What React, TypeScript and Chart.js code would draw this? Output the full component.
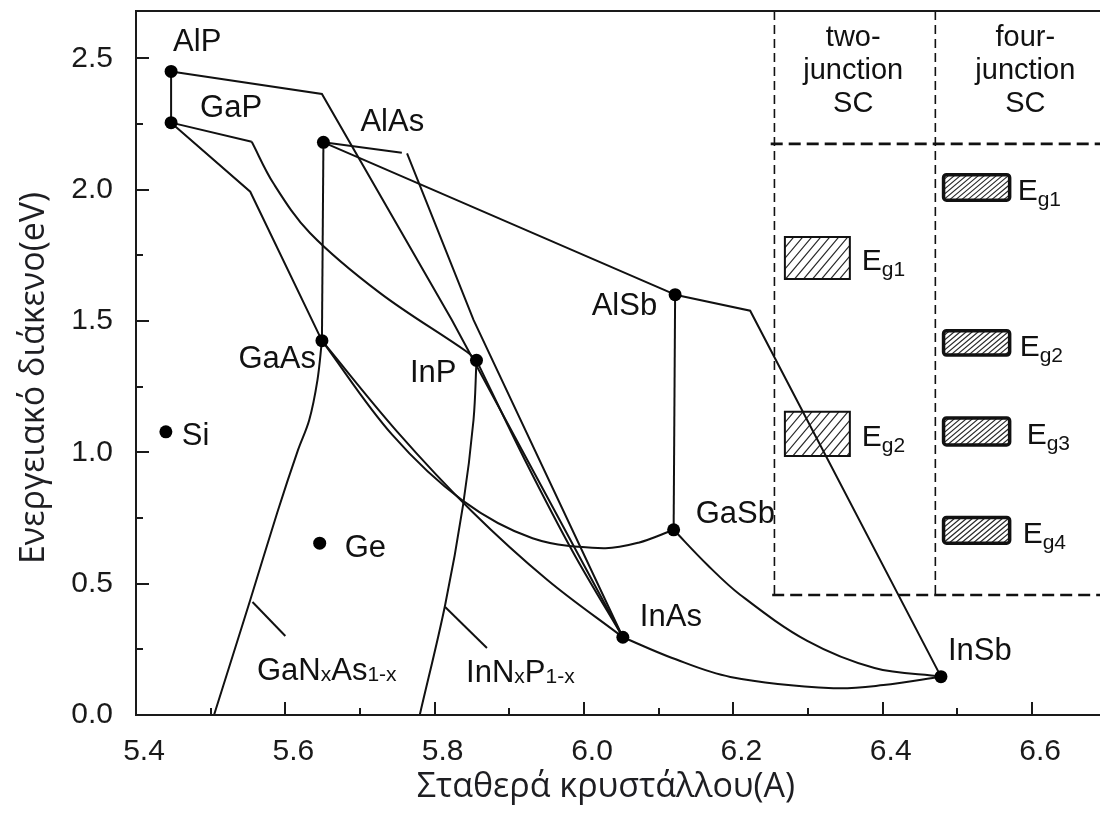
import { useEffect, useRef } from 'react';
import { Chart, registerables } from 'chart.js';

Chart.register(...registerables);

// Axis ranges and ticks (lattice constant in Å, band gap in eV)
const xRange = [5.4, 6.691];
const yRange = [0, 2.68];
const xTickValues = [5.4, 5.6, 5.8, 6.0, 6.2, 6.4, 6.6];
const xMinorTickValues = [5.5, 5.7, 5.9, 6.1, 6.3, 6.5];
const yTickValues = [0, 0.5, 1.0, 1.5, 2.0, 2.5];
const yMinorTickValues = [0.25, 0.75, 1.25, 1.75, 2.25];

// Binary semiconductors and the elements Si, Ge
const compoundNames = ['AlP', 'GaP', 'AlAs', 'GaAs', 'InP', 'AlSb', 'GaSb', 'InAs', 'InSb', 'Si', 'Ge'];
const compoundLattice = [5.447, 5.447, 5.651, 5.649, 5.856, 6.122, 6.12, 6.052, 6.478, 5.44, 5.646];
const compoundGap = [2.45, 2.255, 2.18, 1.425, 1.35, 1.6, 0.705, 0.296, 0.146, 1.078, 0.654];

// Ternary alloy lines (lattice constant, band gap)
const alpGapA = [5.447, 5.447];
const alpGapE = [2.45, 2.255];
const alpInasA = [5.447, 5.649, 5.823, 6.052];
const alpInasE = [2.45, 2.364, 1.504, 0.296];
const alasStubA = [5.651, 5.756];
const alasStubE = [2.18, 2.14];
const alasInasA = [5.763, 5.852, 6.052];
const alasInasE = [2.138, 1.504, 0.296];
const alasAlsbA = [5.651, 6.122];
const alasAlsbE = [2.18, 1.6];
const alasGaasA = [5.651, 5.649];
const alasGaasE = [2.18, 1.425];
const alsbInsbA = [6.122, 6.2225, 6.478];
const alsbInsbE = [1.6, 1.539, 0.146];
const alsbGasbA = [6.122, 6.12];
const alsbGasbE = [1.6, 0.705];
const gapKinkA = [5.447, 5.555];
const gapKinkE = [2.255, 2.182];
const gaInPA = [5.555, 5.584, 5.633, 5.727, 5.843, 5.856];
const gaInPE = [2.182, 2.024, 1.835, 1.606, 1.383, 1.35];
const gapGaasA = [5.447, 5.553, 5.649];
const gapGaasE = [2.255, 1.992, 1.425];
const gaasInasA = [5.649, 5.75, 5.85, 5.951, 6.052];
const gaasInasE = [1.425, 1.078, 0.775, 0.514, 0.296];
const gaasGasbA = [5.649, 5.743, 5.837, 5.931, 6.026, 6.073, 6.12];
const gaasGasbE = [1.425, 1.067, 0.817, 0.673, 0.635, 0.656, 0.705];
const inpInasA = [5.856, 5.921, 5.987, 6.052];
const inpInasE = [1.35, 0.97, 0.611, 0.296];
const inasInsbA = [6.052, 6.118, 6.196, 6.334, 6.401, 6.478];
const inasInsbE = [0.296, 0.217, 0.145, 0.102, 0.114, 0.146];
const gasbInsbA = [6.12, 6.165, 6.209, 6.299, 6.389, 6.478];
const gasbInsbE = [0.705, 0.572, 0.458, 0.282, 0.179, 0.146];
const gaNAsA = [5.649, 5.643, 5.632, 5.617, 5.589, 5.553, 5.529, 5.5045];
const gaNAsE = [1.425, 1.275, 1.123, 1.009, 0.769, 0.438, 0.221, 0];
const inNPA = [5.856, 5.852, 5.838, 5.814, 5.78];
const inNPE = [1.35, 1.123, 0.799, 0.419, 0];
const gaNAsPointerA = [5.556, 5.6];
const gaNAsPointerE = [0.43, 0.301];
const inNPPointerA = [5.814, 5.87];
const inNPPointerE = [0.411, 0.255];

// Solar-cell panel: dividers, headers and target band gaps
const panelColumnA = [6.255, 6.4705];
const panelRowE = [2.174, 0.457];
const panelHeaderA = [6.3605, 6.591];
const panelHeaderTopE = 2.5485;
const panelHeaders = [
  ['two-', 'junction', 'SC'],
  ['four-', 'junction', 'SC'],
];
const twoJunctionA = [6.269, 6.356];
const twoJunctionLow = [1.66, 0.986];
const twoJunctionHigh = [1.82, 1.154];
const twoJunctionNames = ['g1', 'g2'];
const fourJunctionA = [6.4815, 6.57];
const fourJunctionLow = [1.96, 1.37, 1.028, 0.654];
const fourJunctionHigh = [2.057, 1.463, 1.131, 0.752];
const fourJunctionNames = ['g1', 'g2', 'g3', 'g4'];

// Alloy names with subscripts
const gaNAsName: [string, boolean][] = [['Ga', false], ['N', false], ['x', true], ['As', false], ['1-x', true]];
const inNPName: [string, boolean][] = [['In', false], ['N', false], ['x', true], ['P', false], ['1-x', true]];
const gaNAsNameAt = [5.562, 0.1332];
const inNPNameAt = [5.842, 0.1256];

const FONT = '"Liberation Sans", Arial, Helvetica, sans-serif';
const TITLE_FONT = '"Open Sans", "Noto Sans", sans-serif';
const INK = '#111';

// Label placement around each compound dot: dx, dy (px), alignment
const compoundLabelPlace: Record<string, [number, number, CanvasTextAlign]> = {
  AlP: [2, -20, 'left'],
  GaP: [29, -6, 'left'],
  AlAs: [37, -11, 'left'],
  GaAs: [-6, 27, 'right'],
  InP: [-20, 22, 'right'],
  AlSb: [-18, 20, 'right'],
  GaSb: [22, -7, 'left'],
  InAs: [17, -11, 'left'],
  InSb: [7, -17, 'left'],
  Si: [16, 13, 'left'],
  Ge: [25, 14, 'left'],
};

const toPoints = (xs: number[], ys: number[]) => xs.map((x, i) => ({ x, y: ys[i] }));

function lineSet(xs: number[], ys: number[], tension: number, extra: any = {}) {
  return {
    data: toPoints(xs, ys),
    showLine: true,
    pointRadius: 0,
    pointHoverRadius: 0,
    borderColor: INK,
    borderWidth: 2,
    tension,
    ...extra,
  };
}

function drawRich(
  ctx: CanvasRenderingContext2D,
  parts: [string, boolean][],
  x: number,
  y: number,
  size: number,
  subSize: number,
  subDrop: number,
  align: 'left' | 'right' = 'left'
) {
  const fontOf = (sub: boolean) => `${sub ? subSize : size}px ${FONT}`;
  let total = 0;
  for (const [t, sub] of parts) {
    ctx.font = fontOf(sub);
    total += ctx.measureText(t).width;
  }
  let cx = align === 'right' ? x - total : x;
  ctx.textAlign = 'left';
  ctx.textBaseline = 'alphabetic';
  for (const [t, sub] of parts) {
    ctx.font = fontOf(sub);
    ctx.fillText(t, cx, sub ? y + subDrop : y);
    cx += ctx.measureText(t).width;
  }
}

function drawHatchedBox(
  ctx: CanvasRenderingContext2D,
  x0: number,
  y0: number,
  x1: number,
  y1: number,
  spacing: number,
  angleDeg: number,
  border: number,
  radius: number
) {
  const w = x1 - x0;
  const h = y1 - y0;
  ctx.save();
  ctx.beginPath();
  ctx.rect(x0, y0, w, h);
  ctx.clip();
  ctx.strokeStyle = '#2a2a2a';
  ctx.lineWidth = 1.2;
  const run = h / Math.tan((angleDeg * Math.PI) / 180);
  ctx.beginPath();
  for (let s = x0 - run; s <= x1 + spacing; s += spacing) {
    ctx.moveTo(s, y1);
    ctx.lineTo(s + run, y0);
  }
  ctx.stroke();
  ctx.restore();
  ctx.save();
  ctx.strokeStyle = INK;
  ctx.lineWidth = border;
  ctx.beginPath();
  (ctx as any).roundRect(x0, y0, w, h, radius);
  ctx.stroke();
  ctx.restore();
}

// Hatched band-gap boxes drawn under the alloy lines
const boxesPlugin = {
  id: 'bandBoxes',
  beforeDatasetsDraw(chart: any) {
    const { ctx } = chart;
    const xs = chart.scales.x;
    const ys = chart.scales.y;
    twoJunctionLow.forEach((lo, i) => {
      drawHatchedBox(
        ctx,
        xs.getPixelForValue(twoJunctionA[0]),
        ys.getPixelForValue(twoJunctionHigh[i]),
        xs.getPixelForValue(twoJunctionA[1]),
        ys.getPixelForValue(lo),
        9,
        50,
        2,
        0
      );
    });
    fourJunctionLow.forEach((lo, i) => {
      drawHatchedBox(
        ctx,
        xs.getPixelForValue(fourJunctionA[0]),
        ys.getPixelForValue(fourJunctionHigh[i]),
        xs.getPixelForValue(fourJunctionA[1]),
        ys.getPixelForValue(lo),
        6,
        40,
        3.5,
        3
      );
    });
  },
};

// Frame, inward ticks, titles and all text labels
const framePlugin = {
  id: 'frameAndText',
  afterDraw(chart: any) {
    const { ctx, chartArea } = chart;
    const { left, right, top, bottom } = chartArea;
    const xs = chart.scales.x;
    const ys = chart.scales.y;
    ctx.save();
    ctx.strokeStyle = '#1a1a1a';
    ctx.lineWidth = 2;
    ctx.beginPath();
    ctx.moveTo(right, top);
    ctx.lineTo(left, top);
    ctx.lineTo(left, bottom);
    ctx.lineTo(right, bottom);
    ctx.stroke();
    ctx.beginPath();
    xTickValues.forEach((v) => {
      const p = Math.round(xs.getPixelForValue(v));
      ctx.moveTo(p, bottom);
      ctx.lineTo(p, bottom - 13);
    });
    xMinorTickValues.forEach((v) => {
      const p = Math.round(xs.getPixelForValue(v));
      ctx.moveTo(p, bottom);
      ctx.lineTo(p, bottom - 7);
    });
    yTickValues.forEach((v) => {
      const p = Math.round(ys.getPixelForValue(v));
      ctx.moveTo(left, p);
      ctx.lineTo(left + 13, p);
    });
    yMinorTickValues.forEach((v) => {
      const p = Math.round(ys.getPixelForValue(v));
      ctx.moveTo(left, p);
      ctx.lineTo(left + 7, p);
    });
    ctx.stroke();

    // Axis titles
    ctx.fillStyle = '#1e1e22';
    ctx.font = `34px ${TITLE_FONT}`;
    ctx.textAlign = 'center';
    ctx.textBaseline = 'alphabetic';
    ctx.fillText('Σταθερά κρυστάλλου(A)', 606, 797);
    ctx.save();
    ctx.translate(44, 378);
    ctx.rotate(-Math.PI / 2);
    ctx.fillText('Ενεργειακό διάκενο(eV)', 0, 0);
    ctx.restore();

    // Compound names
    ctx.fillStyle = INK;
    ctx.font = `31px ${FONT}`;
    compoundNames.forEach((name, i) => {
      const [dx, dy, align] = compoundLabelPlace[name];
      ctx.textAlign = align;
      ctx.fillText(
        name,
        xs.getPixelForValue(compoundLattice[i]) + dx,
        ys.getPixelForValue(compoundGap[i]) + dy
      );
    });

    // Alloy names
    drawRich(ctx, gaNAsName, xs.getPixelForValue(gaNAsNameAt[0]), ys.getPixelForValue(gaNAsNameAt[1]), 31, 21, 1);
    drawRich(ctx, inNPName, xs.getPixelForValue(inNPNameAt[0]), ys.getPixelForValue(inNPNameAt[1]), 31, 21, 1);

    // Panel headers
    ctx.font = `29px ${FONT}`;
    ctx.textAlign = 'center';
    panelHeaders.forEach((lines, c) => {
      const cx = xs.getPixelForValue(panelHeaderA[c]);
      const y0 = ys.getPixelForValue(panelHeaderTopE);
      lines.forEach((t, k) => ctx.fillText(t, cx, y0 + k * 33));
    });

    // Band-gap box captions
    twoJunctionNames.forEach((sub, i) => {
      const x = xs.getPixelForValue(twoJunctionA[1]) + 12;
      const y = (ys.getPixelForValue(twoJunctionLow[i]) + ys.getPixelForValue(twoJunctionHigh[i])) / 2 + 12;
      drawRich(ctx, [['E', false], [sub, true]], x, y, 30, 21, 6);
    });
    const fourGap = [8, 10, 17, 13];
    fourJunctionNames.forEach((sub, i) => {
      const x = xs.getPixelForValue(fourJunctionA[1]) + fourGap[i];
      const y = (ys.getPixelForValue(fourJunctionLow[i]) + ys.getPixelForValue(fourJunctionHigh[i])) / 2 + 13;
      drawRich(ctx, [['E', false], [sub, true]], x, y, 30, 21, 6);
    });
    ctx.restore();
  },
};

export default function App() {
  const canvasRef = useRef<HTMLCanvasElement>(null);

  useEffect(() => {
    const canvas = canvasRef.current;
    if (!canvas) return;

    const dashedV = { borderWidth: 1.6, borderDash: [9, 5] };
    const dashedH = { borderWidth: 2.6, borderDash: [12, 6] };

    const datasets: any[] = [
      {
        data: toPoints(compoundLattice, compoundGap),
        showLine: false,
        pointRadius: 6.5,
        pointHoverRadius: 6.5,
        pointBackgroundColor: '#000',
        pointBorderWidth: 0,
        borderColor: '#000',
      },
      lineSet(alpGapA, alpGapE, 0),
      lineSet(alpInasA, alpInasE, 0),
      lineSet(alasStubA, alasStubE, 0),
      lineSet(alasInasA, alasInasE, 0),
      lineSet(alasAlsbA, alasAlsbE, 0),
      lineSet(alasGaasA, alasGaasE, 0),
      lineSet(alsbInsbA, alsbInsbE, 0),
      lineSet(alsbGasbA, alsbGasbE, 0),
      lineSet(gapKinkA, gapKinkE, 0),
      lineSet(gaInPA, gaInPE, 0.35),
      lineSet(gapGaasA, gapGaasE, 0),
      lineSet(gaasInasA, gaasInasE, 0.35),
      lineSet(gaasGasbA, gaasGasbE, 0.35),
      lineSet(inpInasA, inpInasE, 0.3),
      lineSet(inasInsbA, inasInsbE, 0.35),
      lineSet(gasbInsbA, gasbInsbE, 0.35),
      lineSet(gaNAsA, gaNAsE, 0.35),
      lineSet(inNPA, inNPE, 0.35),
      lineSet(gaNAsPointerA, gaNAsPointerE, 0),
      lineSet(inNPPointerA, inNPPointerE, 0),
      lineSet([panelColumnA[0], panelColumnA[0]], [yRange[1], panelRowE[1]], 0, dashedV),
      lineSet([panelColumnA[1], panelColumnA[1]], [yRange[1], panelRowE[1]], 0, dashedV),
      lineSet([6.25, xRange[1]], [panelRowE[0], panelRowE[0]], 0, dashedH),
      lineSet([6.252, xRange[1]], [panelRowE[1], panelRowE[1]], 0, dashedH),
    ];

    const chart = new Chart(canvas, {
      type: 'scatter',
      data: { datasets },
      options: {
        responsive: false,
        animation: false,
        devicePixelRatio: 1,
        layout: { autoPadding: false, padding: { top: 11, left: 0, right: 0, bottom: 0 } },
        plugins: {
          legend: { display: false },
          tooltip: { enabled: false },
          title: { display: false },
        },
        events: [],
        scales: {
          x: {
            type: 'linear',
            min: xRange[0],
            max: xRange[1],
            grid: { display: false },
            border: { display: false },
            afterBuildTicks: (scale: any) => {
              scale.ticks = xTickValues.map((value) => ({ value }));
            },
            afterFit: (scale: any) => {
              scale.height = 105;
              scale.paddingLeft = 0;
              scale.paddingRight = 0;
            },
            ticks: {
              autoSkip: false,
              maxRotation: 0,
              padding: 11,
              labelOffset: 8,
              color: '#1a1a1a',
              font: { family: FONT, size: 30 },
              callback: (v: any) => Number(v).toFixed(1),
            },
          },
          y: {
            type: 'linear',
            min: yRange[0],
            max: yRange[1],
            grid: { display: false },
            border: { display: false },
            afterBuildTicks: (scale: any) => {
              scale.ticks = yTickValues.map((value) => ({ value }));
            },
            afterFit: (scale: any) => {
              scale.width = 136;
              scale.paddingTop = 0;
              scale.paddingBottom = 0;
            },
            ticks: {
              autoSkip: false,
              padding: 15,
              color: '#1a1a1a',
              font: { family: FONT, size: 30 },
              callback: (v: any) => Number(v).toFixed(1),
            },
          },
        },
      },
      plugins: [boxesPlugin, framePlugin],
    });

    return () => chart.destroy();
  }, []);

  return (
    <div style={{ position: 'absolute', left: 0, top: 0, width: 1100, height: 820, background: '#fff' }}>
      <canvas ref={canvasRef} width={1100} height={820} style={{ display: 'block' }} />
    </div>
  );
}
